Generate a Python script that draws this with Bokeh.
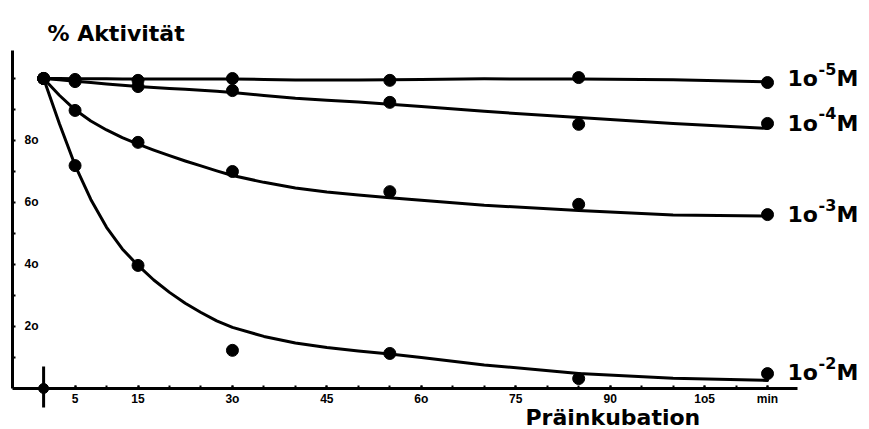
from bokeh.plotting import figure
from bokeh.models import LinearAxis, FixedTicker, Label, ColumnDataSource
from bokeh.core.properties import value
from bokeh.embed import file_html
from bokeh.resources import INLINE

# ---- measured points (Präinkubation in min, % Aktivität) ----
times = [0, 5, 15, 30, 55, 85, 115]
act_1e5 = [100, 99.7, 99.4, 100.0, 99.4, 100.3, 98.7]
act_1e4 = [100, 99.0, 97.4, 96.1, 92.3, 85.2, 85.5]
act_1e3 = [100, 89.7, 79.4, 70.0, 63.5, 59.4, 56.1]
act_1e2 = [100, 71.9, 39.7, 12.3, 11.3, 3.2, 4.8]

# ---- drawn (fitted) curves ----
fit_t = [0, 2.5, 5, 7.5, 10, 12.5, 15, 17.5, 20, 22.5, 25, 27.5, 30, 35, 40, 45, 50, 55, 60, 70, 85, 100, 115]
fit_1e5 = [100, 100, 99.9, 99.9, 99.9, 99.8, 99.8, 99.8, 99.8, 99.8, 99.8, 99.8, 99.8, 99.7, 99.5, 99.5, 99.5, 99.6, 99.7, 99.9, 99.8, 99.6, 98.9]
fit_1e4 = [100, 99.6, 99.1, 98.7, 98.2, 97.8, 97.4, 97.1, 96.8, 96.5, 96.2, 95.9, 95.5, 94.5, 93.6, 93.0, 92.4, 91.7, 91.0, 89.4, 87.4, 85.5, 83.9]
fit_1e3 = [100, 94.6, 89.9, 86.3, 83.4, 80.9, 78.8, 76.9, 75.1, 73.4, 71.8, 70.2, 68.7, 66.5, 64.7, 63.4, 62.4, 61.5, 60.7, 59.1, 57.4, 56.0, 55.6]
fit_1e2 = [100, 85.5, 72.0, 61.0, 52.0, 45.0, 39.7, 35.0, 31.0, 27.5, 24.5, 21.8, 19.7, 16.8, 14.7, 13.2, 12.1, 11.1, 10.0, 7.6, 4.8, 3.3, 2.6]

series_exp = ["-5", "-4", "-3", "-2"]

# ---- axis ticks and labels ----
x_ticks = [5, 10, 15, 20, 25, 30, 35, 40, 45, 50, 55, 60, 65, 70, 75, 80, 85, 90, 95, 100, 105, 110, 115]
x_label_vals = [5, 15, 30, 45, 60, 75, 90, 105, 115]
x_label_txt = ["5", "15", "3o", "45", "6o", "75", "90", "1o5", "min"]
y_ticks = [10, 20, 30, 40, 50, 60, 70, 80, 90, 100]
y_label_vals = [20, 40, 60, 80]
y_label_txt = ["2o", "4o", "6o", "8o"]
origin_t = [0]
origin_v = [0]

X0, X1 = -6.847, 131.2
Y0, Y1 = -13.23, 125.16

p = figure(width=869, height=429, x_range=(X0, X1), y_range=(Y0, Y1),
           x_axis_type=None, y_axis_type=None, toolbar_location=None,
           output_backend="svg", min_border=0, min_border_left=0,
           min_border_right=0, min_border_top=0, min_border_bottom=0)
p.outline_line_color = None
p.background_fill_color = "white"
p.border_fill_color = "white"
p.grid.visible = False

xaxis = LinearAxis(fixed_location=0, bounds=(-4.94, 119.76),
                   ticker=FixedTicker(ticks=x_label_vals, minor_ticks=x_ticks))
xaxis.major_label_overrides = dict(zip(x_label_vals, x_label_txt))
xaxis.axis_line_width = 3
xaxis.axis_line_color = "black"
xaxis.major_tick_in = 3
xaxis.major_tick_out = 0
xaxis.major_tick_line_width = 2
xaxis.minor_tick_in = 3
xaxis.minor_tick_out = 0
xaxis.minor_tick_line_width = 2
xaxis.minor_tick_line_color = "black"
xaxis.major_label_standoff = 4
xaxis.major_label_text_font = "Liberation Sans"
xaxis.major_label_text_font_style = "bold"
xaxis.major_label_text_font_size = "12px"
xaxis.major_label_text_color = "black"
p.add_layout(xaxis, "below")

yaxis = LinearAxis(fixed_location=-4.94, bounds=(0, 109.03),
                   ticker=FixedTicker(ticks=[], minor_ticks=y_ticks))
yaxis.axis_line_width = 3
yaxis.axis_line_color = "black"
yaxis.major_tick_line_color = None
yaxis.minor_tick_in = 3
yaxis.minor_tick_out = 0
yaxis.minor_tick_line_width = 2
yaxis.minor_tick_line_color = "black"
p.add_layout(yaxis, "left")

# y tick labels sit inside the axis, to its right
ysrc = ColumnDataSource(dict(x=[-3.03] * len(y_label_vals), y=y_label_vals, t=y_label_txt))
p.text(x="x", y="y", text="t", source=ysrc, text_font=value("Liberation Sans"),
       text_font_style="bold", text_font_size="12px", text_align="left",
       text_baseline="middle", text_color="black")

# origin mark
p.segment(x0=origin_t, y0=[7.1], x1=origin_t, y1=[-6.1], line_width=3, line_color="black")
p.scatter(origin_t, origin_v, size=10, color="black")

for fit, act in [(fit_1e5, act_1e5), (fit_1e4, act_1e4), (fit_1e3, act_1e3), (fit_1e2, act_1e2)]:
    p.line(fit_t, fit, line_width=3, line_color="black", line_join="round", line_cap="round")
    p.scatter(times, act, size=12, color="black")

# concentration labels at the line ends
label_shift = [4, 0, 0, 1]
for act, ex, dy in zip([act_1e5, act_1e4, act_1e3, act_1e2], series_exp, label_shift):
    common = dict(x=times[-1], y=act[-1], text_baseline="middle", text_color="black",
                  text_font="DejaVu Sans", text_font_style="bold")
    p.add_layout(Label(text="1o", x_offset=20, y_offset=dy, text_font_size="22px", **common))
    p.add_layout(Label(text=ex, x_offset=51, y_offset=dy + 10, text_font_size="16px", **common))
    p.add_layout(Label(text="M", x_offset=69, y_offset=dy, text_font_size="22px", **common))

p.add_layout(Label(text="% Aktivität", x=0.62, y=114.5, text_baseline="alphabetic",
                   text_font="DejaVu Sans", text_font_style="bold", text_font_size="22px",
                   text_color="black"))
p.add_layout(Label(text="Präinkubation", x=76.55, y=-9.3, text_baseline="alphabetic",
                   text_font="DejaVu Sans", text_font_style="bold", text_font_size="22px",
                   text_color="black"))

open("out.html", "w").write(file_html(p, INLINE))
